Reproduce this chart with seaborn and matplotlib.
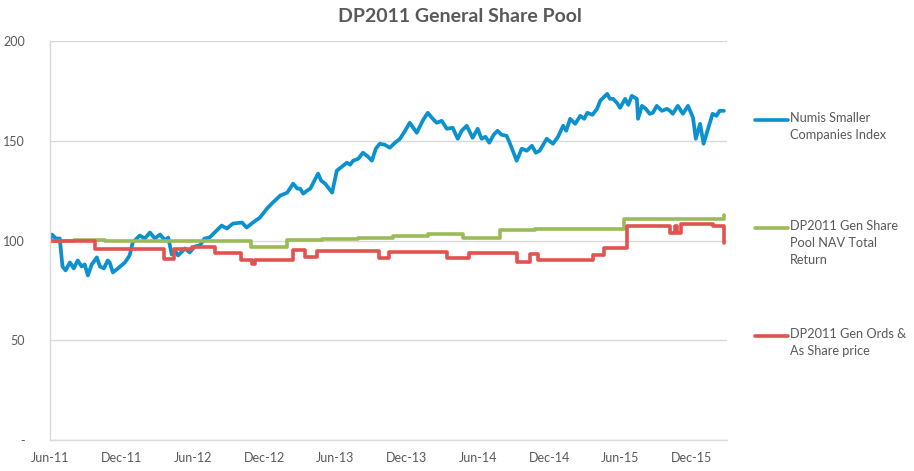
import pandas as pd
import matplotlib.pyplot as plt
import matplotlib.dates as mdates
from matplotlib.lines import Line2D
import seaborn as sns

# Numis Smaller Companies Index
numis_dates = [
    "2011-06-01", "2011-06-06", "2011-06-16", "2011-06-26", "2011-07-03", "2011-07-11",
    "2011-07-22", "2011-08-01", "2011-08-11", "2011-08-21", "2011-08-29", "2011-09-06",
    "2011-09-16", "2011-09-29", "2011-10-07", "2011-10-17", "2011-10-27", "2011-11-01",
    "2011-11-09", "2011-11-22", "2011-12-10", "2011-12-22", "2011-12-30", "2012-01-17",
    "2012-01-30", "2012-02-12", "2012-02-25", "2012-03-09", "2012-03-22", "2012-03-30",
    "2012-04-08", "2012-04-16", "2012-04-24", "2012-05-12", "2012-05-24", "2012-06-06",
    "2012-06-19", "2012-07-01", "2012-07-14", "2012-07-27", "2012-08-14", "2012-08-27",
    "2012-09-12", "2012-10-05", "2012-10-17", "2012-11-02", "2012-11-20", "2012-12-08",
    "2012-12-23", "2013-01-11", "2013-01-29", "2013-02-13", "2013-02-24", "2013-03-03",
    "2013-03-11", "2013-03-21", "2013-03-29", "2013-04-18", "2013-04-26", "2013-05-06",
    "2013-05-24", "2013-06-05", "2013-06-18", "2013-07-01", "2013-07-09", "2013-07-17",
    "2013-07-30", "2013-08-11", "2013-08-24", "2013-09-03", "2013-09-13", "2013-09-23",
    "2013-10-06", "2013-10-19", "2013-11-01", "2013-11-14", "2013-11-27", "2013-12-09",
    "2013-12-27", "2014-01-11", "2014-01-24", "2014-02-06", "2014-02-16", "2014-03-01",
    "2014-03-14", "2014-03-29", "2014-04-11", "2014-04-21", "2014-05-04", "2014-05-19",
    "2014-06-01", "2014-06-11", "2014-06-21", "2014-07-01", "2014-07-12", "2014-07-22",
    "2014-08-01", "2014-08-14", "2014-08-22", "2014-08-30", "2014-09-09", "2014-09-22",
    "2014-10-05", "2014-10-18", "2014-10-28", "2014-11-07", "2014-11-25", "2014-12-11",
    "2014-12-24", "2015-01-06", "2015-01-14", "2015-01-24", "2015-02-06", "2015-02-19",
    "2015-03-01", "2015-03-09", "2015-03-22", "2015-04-03", "2015-04-11", "2015-04-21",
    "2015-04-29", "2015-05-06", "2015-05-14", "2015-05-24", "2015-06-01", "2015-06-14",
    "2015-06-22", "2015-07-01", "2015-07-14", "2015-07-17", "2015-07-27", "2015-08-06",
    "2015-08-16", "2015-08-24", "2015-09-03", "2015-09-16", "2015-09-29", "2015-10-07",
    "2015-10-14", "2015-10-27", "2015-11-09", "2015-11-22", "2015-12-05", "2015-12-12",
    "2015-12-23", "2015-12-28", "2016-01-01", "2016-01-11", "2016-01-24", "2016-02-03",
    "2016-02-11", "2016-02-22",
]
numis_vals = [
    100, 103, 101, 101, 87, 85,
    89, 86, 90, 87, 88, 82.5,
    88, 91.5, 87, 86, 90, 89,
    84, 86, 89, 92.5, 99, 102.5,
    101, 104, 101, 103, 100, 101.5,
    93, 95, 92.5, 96, 94, 97,
    97.5, 101, 101.5, 104, 107.5, 106,
    108.5, 109, 106.5, 109, 111.5, 116,
    119, 122.5, 124, 128.5, 126, 126,
    123.5, 125, 126, 133.5, 130, 128.5,
    124, 135, 137, 139, 138, 140,
    141, 144, 142, 140, 146, 148.5,
    148, 146.5, 149, 151, 155, 159,
    154, 160, 164, 161, 159, 160,
    156, 156.5, 151, 155, 157.5, 151.5,
    156, 151, 152, 149, 153, 155,
    153, 152.5, 149, 145, 140, 146,
    145, 147.5, 144, 145, 151, 148.5,
    152, 157.5, 155, 161, 158.5, 162.5,
    161, 164, 163, 166, 170, 172,
    173.5, 171, 171, 169, 166.5, 171,
    168, 172.5, 171, 161, 167.5, 166,
    163.5, 164, 167.5, 165, 166, 165,
    163.5, 167.5, 163.5, 167.5, 161.5, 151,
    158.5, 153, 148.5, 155, 163.5, 162.5,
    165, 165,
]

# DP2011 Gen Share Pool NAV Total Return (step series)
nav_dates = [
    "2011-06-01", "2011-08-01", "2011-10-20", "2012-10-28", "2013-01-29", "2013-04-28",
    "2013-07-30", "2013-10-27", "2014-01-24", "2014-04-24", "2014-07-27", "2014-10-25",
    "2015-06-11", "2016-02-21", "2016-02-22",
]
nav_vals = [
    100, 100.5, 99.5, 96.5, 100.5, 101,
    101.5, 102.5, 103.5, 101.5, 105.5, 106,
    111, 111, 113,
]

# DP2011 Gen Ords & As Share price (step series)
price_dates = [
    "2011-06-01", "2011-09-25", "2012-03-19", "2012-04-15", "2012-05-30", "2012-07-27",
    "2012-10-02", "2012-10-31", "2012-11-07", "2013-02-13", "2013-03-15", "2013-04-15",
    "2013-09-20", "2013-10-16", "2014-03-14", "2014-05-09", "2014-09-09", "2014-10-13",
    "2014-11-02", "2015-03-24", "2015-04-21", "2015-06-19", "2015-10-07", "2015-10-20",
    "2015-10-25", "2015-11-05", "2016-01-24", "2016-02-21", "2016-02-22",
]
price_vals = [
    99.5, 95.5, 90.5, 95.5, 96.5, 93.5,
    90, 88, 90, 95, 91.5, 94.5,
    91, 94, 91, 93.5, 89, 93,
    90, 92.5, 96, 107.5, 104, 107.5,
    104, 108.5, 107.5, 107.5, 98.5,
]

labels = [
    "Numis Smaller\nCompanies Index",
    "DP2011 Gen Share\nPool NAV Total\nReturn",
    "DP2011 Gen Ords &\nAs Share price",
]
colours = ["#0C91CF", "#9BBB59", "#E2524F"]
y_ticks = [0, 50, 100, 150, 200]
y_labels = ["-", "50", "100", "150", "200"]
x_ticks = pd.date_range("2011-06-01", "2015-12-01", freq="6MS")

grey = "#595959"
sns.set_theme(style="white")
plt.rcParams["font.family"] = ["Lato", "DejaVu Sans"]

fig = plt.figure(figsize=(9.14, 4.71), dpi=100)
ax = fig.add_axes([50 / 914, 1 - 440 / 471, 677 / 914, 399 / 471])

sns.lineplot(x=pd.to_datetime(numis_dates), y=numis_vals, ax=ax, color=colours[0], lw=2.7)
sns.lineplot(x=pd.to_datetime(nav_dates), y=nav_vals, ax=ax, color=colours[1], lw=2.6,
             drawstyle="steps-post")
sns.lineplot(x=pd.to_datetime(price_dates), y=price_vals, ax=ax, color=colours[2], lw=2.6,
             drawstyle="steps-post")

ax.set_ylim(0, 200)
ax.set_xlim(pd.Timestamp("2011-06-01"), pd.Timestamp("2016-03-01"))
ax.set_yticks(y_ticks)
ax.set_yticklabels(y_labels)
ax.set_xticks(x_ticks)
ax.xaxis.set_major_formatter(mdates.DateFormatter("%b-%y"))
ax.tick_params(axis="both", length=0, labelsize=9, colors=grey)
ax.tick_params(axis="y", pad=18)
ax.tick_params(axis="x", pad=9)
ax.grid(axis="y", color="#D9D9D9", lw=1)
ax.set_axisbelow(True)
for side in ["top", "right"]:
    ax.spines[side].set_visible(False)
for side in ["left", "bottom"]:
    ax.spines[side].set_color("#D9D9D9")
    ax.spines[side].set_linewidth(1)
ax.set_xlabel("")
ax.set_ylabel("")

fig.text(460 / 914, 1 - 17 / 471, "DP2011 General Share Pool", ha="center", va="center",
         fontsize=14, fontweight="bold", color=grey)

# legend drawn by hand so the line sits on the first text line, as in the original
legend_y = [120, 228, 336]
for lab, col, py in zip(labels, colours, legend_y):
    fy = 1 - py / 471
    fig.add_artist(Line2D([755 / 914, 788 / 914], [fy, fy], color=col, lw=2.6,
                          transform=fig.transFigure))
    fig.text(790 / 914, fy + 8 / 471, lab, ha="left", va="top", fontsize=9.2,
             color=grey, linespacing=1.5)

fig.savefig("out.png", dpi=100)
